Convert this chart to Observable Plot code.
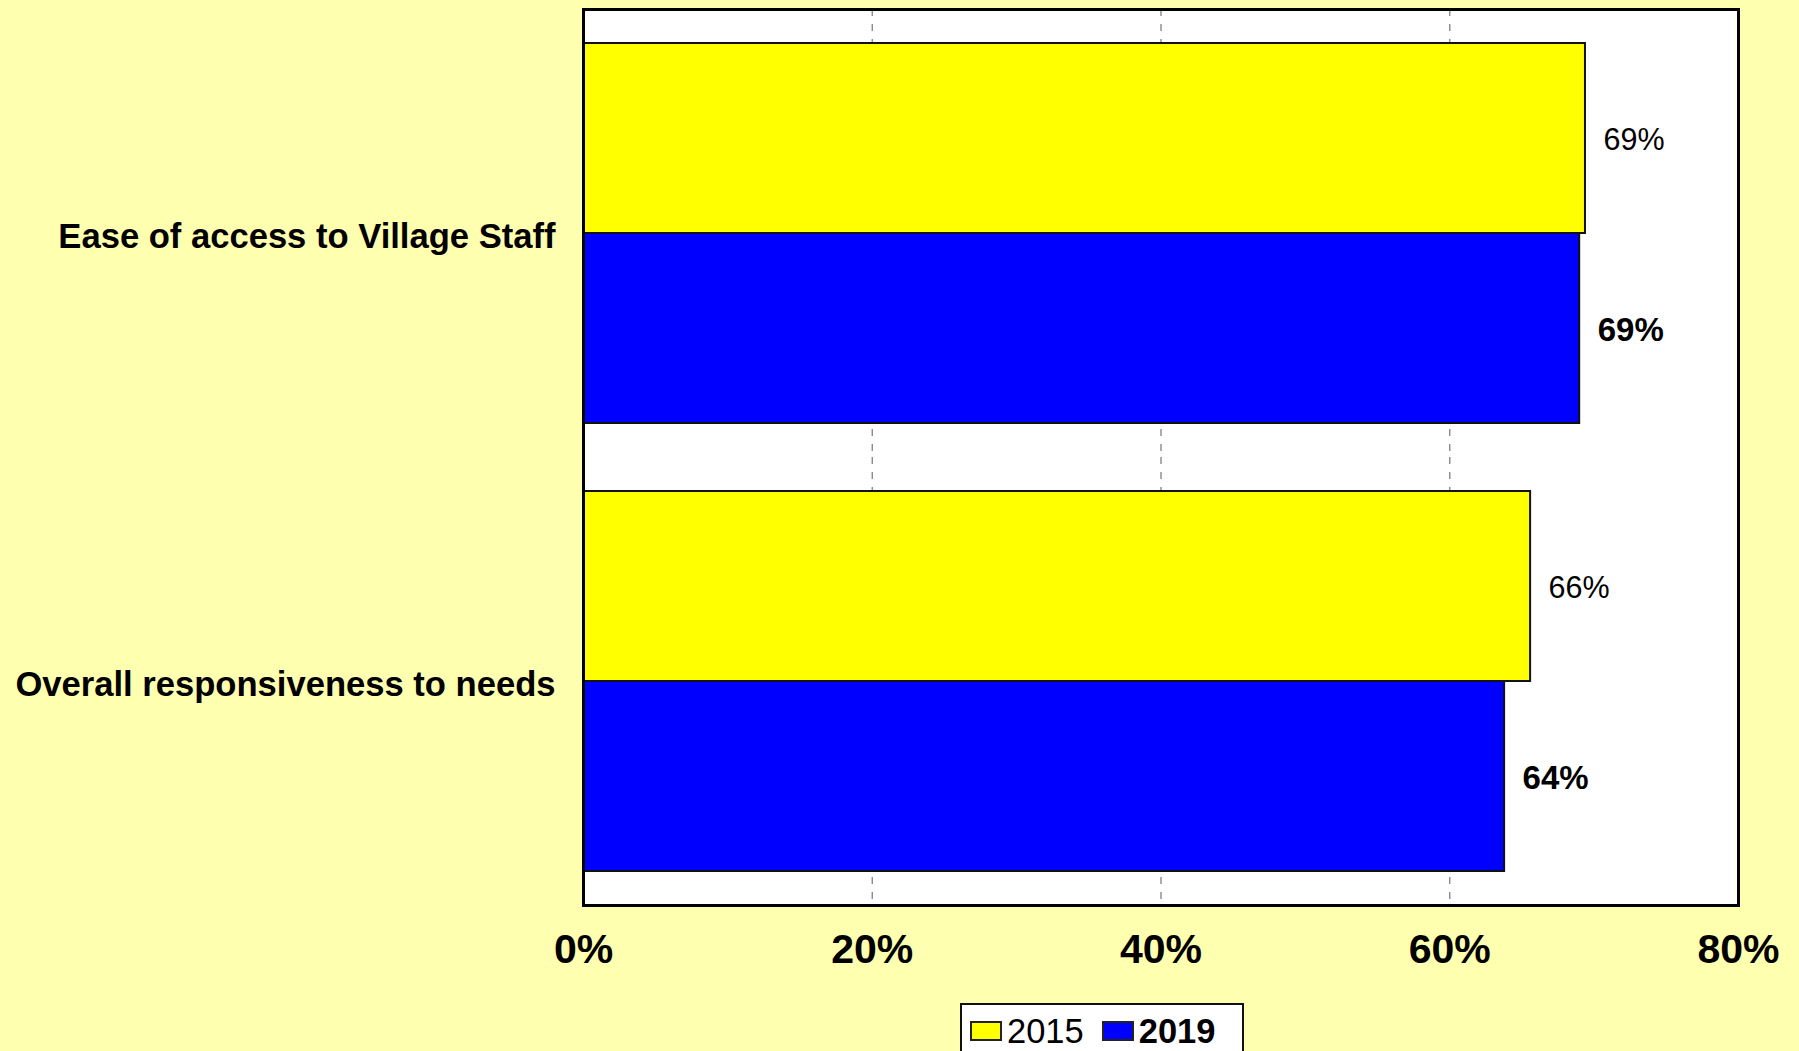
<!DOCTYPE html>
<html>
<head>
<meta charset="utf-8">
<script src="https://cdn.jsdelivr.net/npm/d3@7"></script>
<script src="https://cdn.jsdelivr.net/npm/@observablehq/plot@0.6"></script>
<style>
  html, body { margin: 0; padding: 0; background: #ffffb0; overflow: hidden; }
  body { width: 1799px; height: 1051px; position: relative; font-family: "Liberation Sans", Arial, sans-serif; color: #000; }
  #chart svg { display: block; }
  .legend {
    position: absolute; left: 960px; top: 1003px;
    background: #fff; border: 2px solid #111;
    padding: 6px 12px 6px 8px;
    display: flex; align-items: center; gap: 4px;
    font-size: 34.5px; line-height: 40px;
  }
  .legend .item { display: flex; align-items: center; gap: 5px; margin-right: 14px; }
  .legend .sw { width: 32px; height: 20px; border: 2px solid #222; box-sizing: border-box; }
</style>
</head>
<body>
<div id="chart"></div>
<div class="legend" id="legend"></div>
<script>
// Survey items shown on the band axis
const categories = ["Ease of access to Village Staff", "Overall responsiveness to needs"];
// Survey years (series)
const years = ["2015", "2019"];
// Share of positive responses per item
const values2015 = [0.694, 0.656];
const values2019 = [0.690, 0.638];
// Percent ticks along the value axis
const xTicks = [0, 0.2, 0.4, 0.6, 0.8];
const seriesColors = ["#ffff00", "#0000ff"];

const rows = [];
categories.forEach((c, i) => {
  rows.push({category: c, year: years[0], value: values2015[i]});
  rows.push({category: c, year: years[1], value: values2019[i]});
});

const pct = d3.format(".0%");

const chart = Plot.plot({
  width: 1799,
  height: 1000,
  marginLeft: 583,
  marginRight: 61,
  marginTop: 9,
  marginBottom: 95,
  style: {background: "transparent", fontFamily: "'Liberation Sans', Arial, sans-serif", color: "#000"},
  x: {domain: [0, 0.8]},
  // facets touch each other; the space between item groups comes from the inner band padding
  fy: {domain: categories, padding: 0},
  y: {domain: years, paddingInner: 0, paddingOuter: 0.1765, axis: null},
  color: {domain: years, range: seriesColors},
  marks: [
    Plot.frame({fill: "white", facet: "super"}),
    Plot.ruleX(xTicks.slice(1, -1), {stroke: "#808080", strokeWidth: 1.3, strokeDasharray: "7,8"}),
    Plot.barX(rows, {x: "value", y: "year", fy: "category", fill: "year", stroke: "#111", strokeWidth: 2}),
    Plot.text(rows.filter(d => d.year === years[0]), {
      x: "value", y: "year", fy: "category", text: d => pct(d.value),
      textAnchor: "start", dx: 18, dy: 2, fontSize: 30.5, fill: "#000"
    }),
    Plot.text(rows.filter(d => d.year === years[1]), {
      x: "value", y: "year", fy: "category", text: d => pct(d.value),
      textAnchor: "start", dx: 18, dy: 2, fontSize: 33, fontWeight: "bold", fill: "#000"
    }),
    Plot.frame({stroke: "#000", strokeWidth: 3, facet: "super"}),
    Plot.axisX({ticks: xTicks, tickFormat: pct, tickSize: 0, tickPadding: 28, fontSize: 41, fontWeight: "bold", label: null, fill: "#000"}),
    Plot.axisFy({anchor: "left", tickSize: 0, tickPadding: 28, dy: 3, fontSize: 34.6, fontWeight: "bold", label: null, fill: "#000"})
  ]
});
document.getElementById("chart").appendChild(chart);

// Legend: one swatch per survey year
const legend = document.getElementById("legend");
years.forEach((y, i) => {
  const item = document.createElement("div");
  item.className = "item";
  const sw = document.createElement("span");
  sw.className = "sw";
  sw.style.background = seriesColors[i];
  const label = document.createElement("span");
  label.textContent = y;
  if (i === 1) label.style.fontWeight = "bold";
  item.appendChild(sw);
  item.appendChild(label);
  legend.appendChild(item);
});
</script>
</body>
</html>
